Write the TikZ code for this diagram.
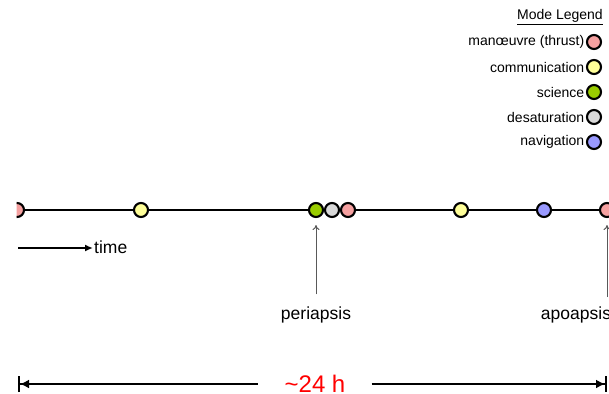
\documentclass[tikz,border=0pt]{standalone}
\usepackage{fontspec}
\setmainfont{Liberation Sans}
\usetikzlibrary{arrows.meta}
\definecolor{thrustpink}{HTML}{F5A0A0}
\definecolor{commyellow}{HTML}{FFFF99}
\definecolor{sciencegreen}{HTML}{99CC00}
\definecolor{desatgray}{HTML}{D9D9D9}
\definecolor{navblue}{HTML}{9999FF}
\begin{document}
\begin{tikzpicture}[x=1pt,y=-1pt,
    mode/.style={circle, draw=black, line width=2.1pt, minimum size=14pt, inner sep=0pt},
    lbl/.style={font=\fontsize{17.5}{20}\selectfont},
    leg/.style={font=\fontsize{14}{16}\selectfont, anchor=east, inner sep=1.5pt}]
    \useasboundingbox (0,0) rectangle (609,393);
    \clip (16.5,0) rectangle (609,393);

    % Timeline
    \coordinate (tl-start) at (17,210);
    \coordinate (tl-end) at (640,210);
    \draw[line width=2.2pt] (tl-start) -- (tl-end);
    \node[mode, fill=thrustpink]   (m1) at (17,210) {};
    \node[mode, fill=commyellow]   (m2) at (141,210) {};
    \node[mode, fill=sciencegreen] (m3) at (316,210) {};
    \node[mode, fill=desatgray]    (m4) at (332,210) {};
    \node[mode, fill=thrustpink]   (m5) at (348,210) {};
    \node[mode, fill=commyellow]   (m6) at (461,210) {};
    \node[mode, fill=navblue]      (m7) at (544,210) {};
    \node[mode, fill=thrustpink]   (m8) at (607,210) {};

    % Time direction
    \coordinate (time-start) at (18,248);
    \node[lbl, anchor=west, inner sep=1pt] (time) at (93,247) {time};
    \draw[line width=2pt, -{Latex[length=8pt,width=7pt]}] (time-start) -- (time-start -| time.west);

    % Orbit points
    \node[lbl] (peri) at (316,315) {periapsis};
    \draw[gray!70!black, line width=1pt, -{To[length=5pt,width=7pt]}, shorten <=9pt, shorten >=7pt]
        (peri.north) -- (m3.south);
    \node[lbl] (apo) at (576,315) {apoapsis};
    \coordinate (apo-foot) at (607,297);
    \draw[gray!70!black, line width=1pt, -{To[length=5pt,width=7pt]}, shorten >=7pt]
        (apo-foot) -- (m8.south);

    % Period
    \coordinate (span-l) at (18,384);
    \coordinate (span-r) at (607,384);
    \node[red, font=\fontsize{24}{28}\selectfont, inner xsep=26pt] (span) at (315,384) {\textasciitilde24 h};
    \draw[line width=2pt, {Bar[width=16pt]Latex[length=9pt,width=9pt]}-] (span-l) -- (span-l -| span.west);
    \draw[line width=2pt, -{Latex[length=9pt,width=9pt]Bar[width=16pt]}] (span-r -| span.east) -- (span-r);

    % Legend
    \node[leg, inner sep=0pt] (legend) at (603,17) {\underline{Mode Legend}};
    \node[mode, fill=thrustpink]   (k1) at (594,42) {};
    \node[mode, fill=commyellow]   (k2) at (594,67) {};
    \node[mode, fill=sciencegreen] (k3) at (594,92) {};
    \node[mode, fill=desatgray]    (k4) at (594,117) {};
    \node[mode, fill=navblue]      (k5) at (594,142) {};
    \node[leg] (t1) at (k1.west) {manœuvre (thrust)};
    \node[leg] (t2) at (k2.west) {communication};
    \node[leg] (t3) at (k3.west) {science};
    \node[leg] (t4) at (k4.west) {desaturation};
    \node[leg] (t5) at (k5.west) {navigation};
\end{tikzpicture}
\end{document}
